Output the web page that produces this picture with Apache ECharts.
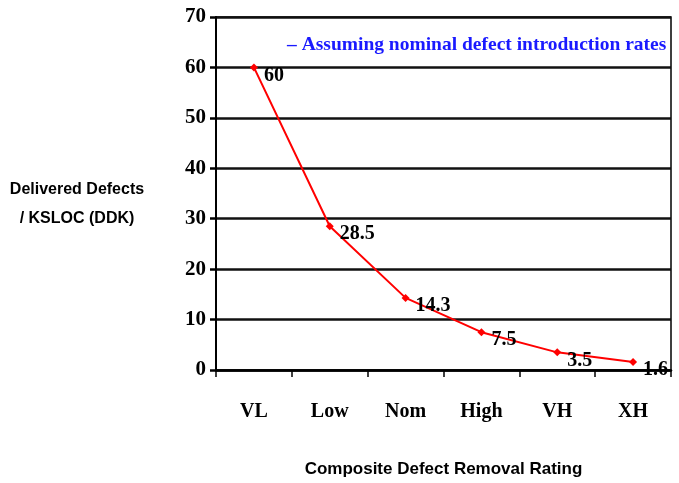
<!DOCTYPE html>
<html>
<head>
<meta charset="utf-8">
<script src="https://cdn.jsdelivr.net/npm/echarts@6/dist/echarts.min.js"></script>
<style>
  html, body { margin: 0; padding: 0; background: #fff; }
  #main { width: 679px; height: 483px; }
</style>
</head>
<body>
<div id="main"></div>
<script>
const ratings = ['VL', 'Low', 'Nom', 'High', 'VH', 'XH'];
const ddk = [60, 28.5, 14.3, 7.5, 3.5, 1.6];
const yTicks = { min: 0, max: 70, interval: 10 };

const serif = '"Liberation Serif", "Times New Roman", serif';
const sans = '"Liberation Sans", Arial, sans-serif';

let myChart = echarts.init(document.getElementById('main'));
let option = {
  backgroundColor: '#fff',
  animation: false,
  title: {
    text: '– Assuming nominal defect introduction rates',
    left: 282,
    top: 30,
    textStyle: { color: '#1a1aff', fontFamily: serif, fontWeight: 'bold', fontSize: 19.5 }
  },
  graphic: [
    {
      // y axis title, two lines
      type: 'text',
      left: 5,
      top: 175,
      style: {
        text: 'Delivered Defects\n/ KSLOC (DDK)',
        fill: '#000',
        font: 'bold 16px "Liberation Sans", Arial, sans-serif',
        textAlign: 'center',
        lineHeight: 29,
        width: 144,
        align: 'center'
      }
    }
  ],
  grid: {
    left: 216, right: 8, top: 17, bottom: 107,
    show: true, borderColor: '#000', borderWidth: 1.5
  },
  xAxis: {
    type: 'category',
    data: ratings,
    boundaryGap: true,
    name: 'Composite Defect Removal Rating',
    nameLocation: 'middle',
    nameGap: 91,
    nameTextStyle: { color: '#000', fontFamily: sans, fontWeight: 'bold', fontSize: 17 },
    axisLine: { lineStyle: { color: '#000', width: 2.5 } },
    axisTick: { show: true, length: 7, lineStyle: { color: '#000', width: 1.5 } },
    axisLabel: { margin: 32, color: '#000', fontFamily: serif, fontWeight: 'bold', fontSize: 20 }
  },
  yAxis: {
    type: 'value',
    min: yTicks.min,
    max: yTicks.max,
    interval: yTicks.interval,
    axisLine: { show: true, lineStyle: { color: '#000', width: 2 } },
    axisTick: { show: true, length: 6, lineStyle: { color: '#000', width: 2.5 } },
    axisLabel: { margin: 10, color: '#000', fontFamily: serif, fontWeight: 'bold', fontSize: 21 },
    splitLine: { lineStyle: { color: '#111', width: 2.5 } }
  },
  series: [
    {
      type: 'line',
      data: ddk,
      symbol: 'diamond',
      symbolSize: 8,
      lineStyle: { color: '#ff0000', width: 2 },
      itemStyle: { color: '#ff0000' },
      label: {
        show: true,
        position: 'right',
        distance: 6,
        offset: [0, 8],
        color: '#000',
        fontFamily: serif,
        fontWeight: 'bold',
        fontSize: 20
      }
    }
  ]
};
myChart.setOption(option);
</script>
</body>
</html>
